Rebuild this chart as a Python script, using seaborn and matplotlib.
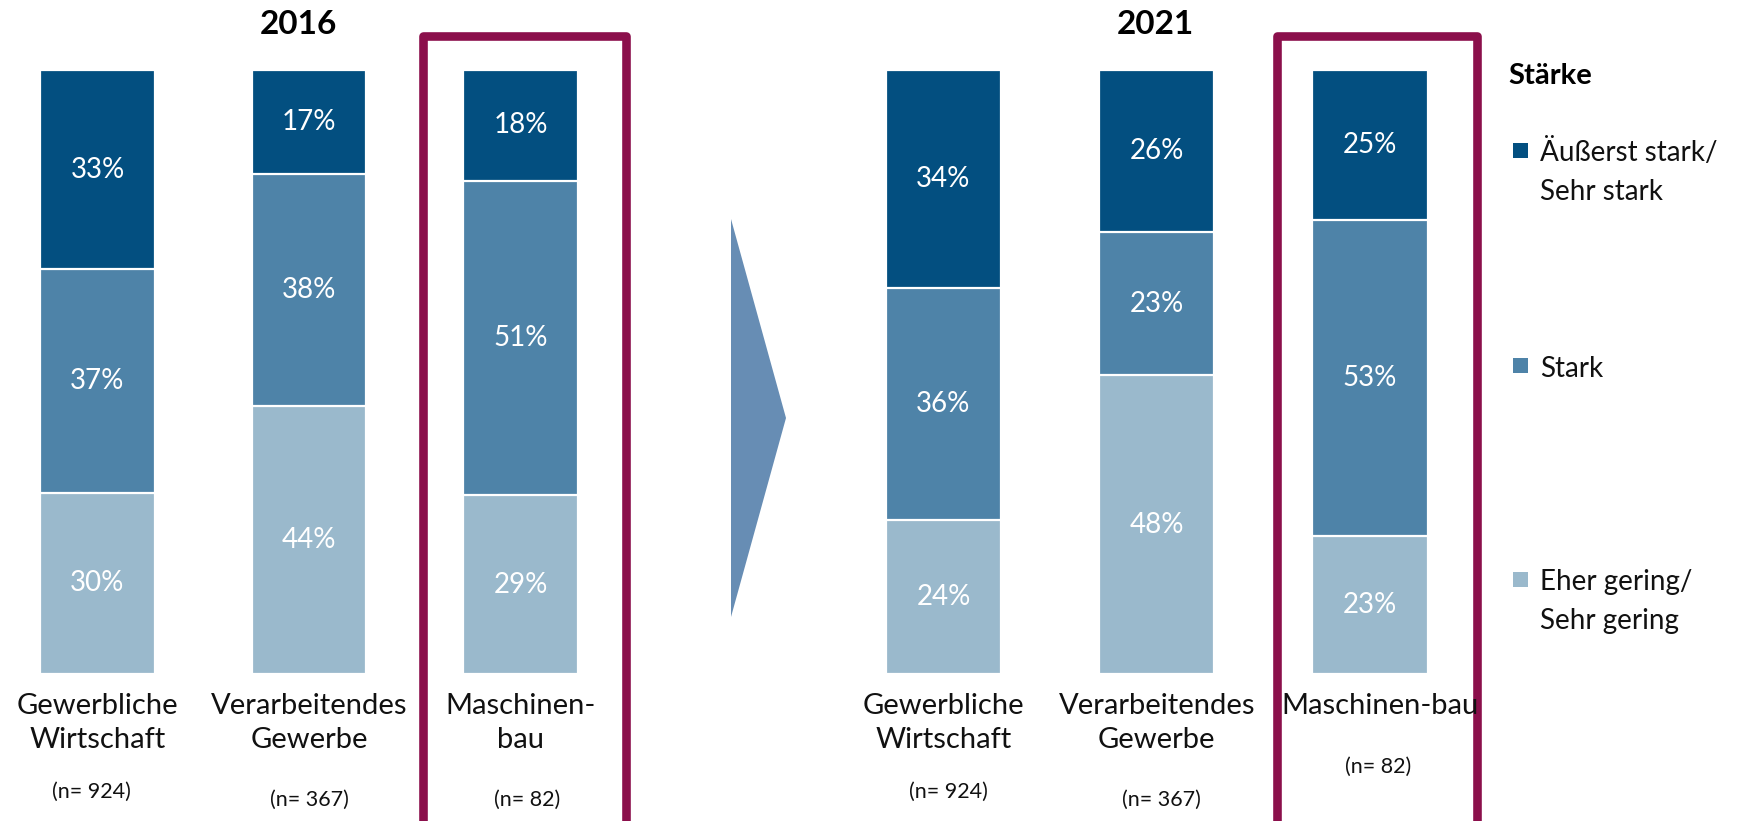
import numpy as np
import pandas as pd
import matplotlib
matplotlib.use("Agg")
import matplotlib.pyplot as plt
import seaborn as sns
from matplotlib.patches import Rectangle, Polygon

# ---------------- data ----------------
years = ["2016", "2021"]
categories = ["Gewerbliche Wirtschaft", "Verarbeitendes Gewerbe", "Maschinenbau"]
cat_labels_2016 = ["Gewerbliche\nWirtschaft", "Verarbeitendes\nGewerbe", "Maschinen-\nbau"]
cat_labels_2021 = ["Gewerbliche\nWirtschaft", "Verarbeitendes\nGewerbe", "Maschinen-bau"]
n_labels = ["(n= 924)", "(n= 367)", "(n= 82)"]
levels = ["Äußerst stark/\nSehr stark", "Stark", "Eher gering/\nSehr gering"]
legend_title = "Stärke"

sehr_stark_2016 = [33, 17, 18]
stark_2016 = [37, 38, 51]
gering_2016 = [30, 44, 29]
sehr_stark_2021 = [34, 26, 25]
stark_2021 = [36, 23, 53]
gering_2021 = [24, 48, 23]

colors = ["#034f80", "#4e83a8", "#9ab9cc"]
box_color = "#8b0f4b"
arrow_color = "#678db4"

rows = []
for yr, (top, mid, bot) in zip(years, [(sehr_stark_2016, stark_2016, gering_2016),
                                       (sehr_stark_2021, stark_2021, gering_2021)]):
    for i, c in enumerate(categories):
        tot = top[i] + mid[i] + bot[i]
        b = bot[i] / tot
        m = mid[i] / tot
        rows.append(dict(year=yr, sector=c, level=levels[2], value=bot[i], lo=0.0, hi=b))
        rows.append(dict(year=yr, sector=c, level=levels[1], value=mid[i], lo=b, hi=b + m))
        rows.append(dict(year=yr, sector=c, level=levels[0], value=top[i], lo=b + m, hi=1.0))
df = pd.DataFrame(rows)

# ---------------- figure ----------------
W, H = 1742, 821
sns.set_theme(style="white")
FONT = ["Lato", "DejaVu Sans"]
plt.rcParams["font.family"] = FONT
fig = plt.figure(figsize=(W / 100, H / 100), dpi=100)

def fx(x):
    return x / W

def fy(y):
    return 1 - y / H

bar_top, bar_bot = 70, 674
layout = {
    "2016": dict(c0=97.5, sp=211.5, title_x=298, labels=cat_labels_2016,
                 n_pos=[(91, 792), (309, 800), (527, 800)],
                 lab_dx=[0, 0, 0], box=(422.5, 626)),
    "2021": dict(c0=943.5, sp=213.25, title_x=1155, labels=cat_labels_2021,
                 n_pos=[(948, 792), (1161, 800), (1378, 767)],
                 lab_dx=[0, 0, 10], box=(1277, 1477)),
}

for yr in years:
    L = layout[yr]
    sub = df[df.year == yr]
    left_px = L["c0"] - 0.5 * L["sp"]
    ax = fig.add_axes([fx(left_px), fy(bar_bot), 3 * L["sp"] / W, (bar_bot - bar_top) / H])
    for lev, col in zip(levels, colors):
        d = sub[sub.level == lev]
        sns.barplot(data=d, x="sector", y="hi", order=categories, color=col, saturation=1,
                    width=0.54, edgecolor="white", linewidth=1.6, errorbar=None, ax=ax)
    ax.set_xlim(-0.5, 2.5)
    ax.set_ylim(0, 1)
    ax.axis("off")
    for _, r in sub.iterrows():
        i = categories.index(r["sector"])
        ax.text(i, (r["lo"] + r["hi"]) / 2, f"{r['value']}%", ha="center", va="center",
                color="white", fontsize=20, family=FONT)
    # category labels
    for i, lab in enumerate(L["labels"]):
        cx = L["c0"] + i * L["sp"] + L["lab_dx"][i]
        for j, line in enumerate(lab.split("\n")):
            fig.text(fx(cx), fy(714 + j * 34), line, ha="center", va="baseline",
                     fontsize=21, family=FONT, color="#111111")
    for (nx, ny), nl in zip(L["n_pos"], n_labels):
        fig.text(fx(nx), fy(ny), nl, ha="center", va="center", fontsize=15.5,
                 family=FONT, color="#111111")
    fig.text(fx(L["title_x"]), fy(25), yr, ha="center", va="center", fontsize=24,
             fontweight="bold", family=FONT, color="black")
    # highlight box
    bx0, bx1 = L["box"]
    fig.add_artist(Rectangle((fx(bx0), fy(840)), fx(bx1 - bx0), (840 - 36) / H,
                             transform=fig.transFigure, fill=False, edgecolor=box_color,
                             linewidth=6.2, joinstyle="round"))

# arrow
fig.add_artist(Polygon([(fx(731), fy(219)), (fx(786), fy(418)), (fx(731), fy(617))],
                       closed=True, transform=fig.transFigure, facecolor=arrow_color,
                       edgecolor="none"))

# legend
fig.text(fx(1508), fy(84), legend_title, ha="left", va="baseline", fontsize=21,
         fontweight="bold", family=FONT, color="black")
leg_items = [(151, [161, 200]), (366, [377]), (579, [590, 629])]
for (my, bases), lev, col in zip(leg_items, levels, colors):
    fig.add_artist(Rectangle((fx(1513), fy(my + 7.5)), 15 / W, 15 / H,
                             transform=fig.transFigure, facecolor=col, edgecolor="none"))
    for line, by in zip(lev.split("\n"), bases):
        fig.text(fx(1540), fy(by), line, ha="left", va="baseline", fontsize=20,
                 family=FONT, color="#111111")

fig.savefig("out.png", dpi=100)
